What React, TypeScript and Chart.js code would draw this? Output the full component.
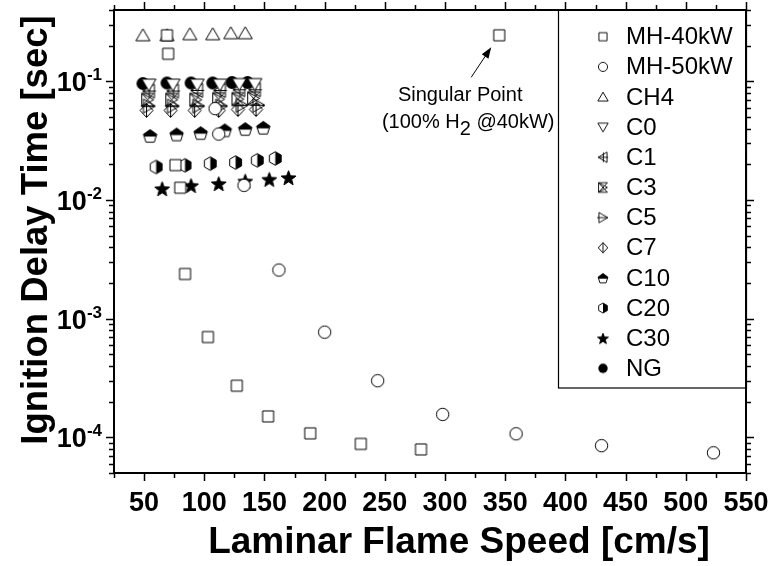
import React, { useEffect, useRef } from 'react';
import { Chart, registerables } from 'chart.js';
Chart.register(...registerables);

const FONT = '"Liberation Sans", Arial, Helvetica, sans-serif';

// ---- data ----
const seriesNames = ['MH-40kW', 'MH-50kW', 'CH4', 'C0', 'C1', 'C3', 'C5', 'C7', 'C10', 'C20', 'C30', 'NG'];
const markerKinds = ['square', 'circle', 'triUp', 'triDown', 'triLeftPlus', 'bowX', 'triRightLine', 'diamondLine', 'pentHalf', 'hexHalf', 'star', 'dot'];

const mh40X = [69, 70, 76, 80, 84, 103, 127, 153, 188, 230, 280, 345];
const mh40Y = [0.245, 0.171, 0.0197, 0.0127, 0.00238, 0.0007, 0.000272, 0.00015, 0.000108, 0.000088, 0.000079, 0.245];
const mh50X = [109, 112, 133, 162, 200, 244, 298, 359, 430, 523];
const mh50Y = [0.059, 0.036, 0.0133, 0.00257, 0.00077, 0.0003, 0.000156, 0.000107, 0.000085, 0.000074];
const ch4X = [49, 69, 88, 107, 122, 134];
const ch4Y = [0.245, 0.245, 0.25, 0.25, 0.255, 0.255];
const c0X = [54, 74, 94, 113, 129, 142];
const c0Y = [0.094, 0.094, 0.094, 0.094, 0.095, 0.095];
const c1X = [54, 74, 94, 113, 129, 142];
const c1Y = [0.083, 0.083, 0.084, 0.084, 0.085, 0.085];
const c3X = [53, 73, 93, 112, 128, 141];
const c3Y = [0.07, 0.07, 0.07, 0.071, 0.071, 0.072];
const c5X = [54, 74, 95, 114, 131, 145];
const c5Y = [0.062, 0.062, 0.062, 0.062, 0.063, 0.063];
const c7X = [52, 72, 92, 112, 128, 143];
const c7Y = [0.057, 0.057, 0.057, 0.057, 0.058, 0.058];
const c10X = [55, 77, 97, 117, 134, 149];
const c10Y = [0.035, 0.036, 0.037, 0.039, 0.04, 0.041];
const c20X = [60, 84, 105, 126, 144, 159];
const c20Y = [0.019, 0.0196, 0.0203, 0.0207, 0.0216, 0.0224];
const c30X = [65, 89, 112, 134, 154, 170];
const c30Y = [0.0125, 0.0133, 0.0138, 0.0145, 0.015, 0.0155];
const ngX = [49, 69, 89, 107, 123, 136];
const ngY = [0.096, 0.097, 0.097, 0.097, 0.098, 0.098];

const seriesX = [mh40X, mh50X, ch4X, c0X, c1X, c3X, c5X, c7X, c10X, c20X, c30X, ngX];
const seriesY = [mh40Y, mh50Y, ch4Y, c0Y, c1Y, c3Y, c5Y, c7Y, c10Y, c20Y, c30Y, ngY];

const xMajorTicks = [50, 100, 150, 200, 250, 300, 350, 400, 450, 500, 550];
const xMinorTicks = [25, 75, 125, 175, 225, 275, 325, 375, 425, 475, 525];
const yDecades = [-1, -2, -3, -4];
const singularIndex = 11;

const xTitle = 'Laminar Flame Speed [cm/s]';
const yTitle = 'Ignition Delay Time [sec]';

function makeMarker(kind: string, size: number): HTMLCanvasElement {
  const cv = document.createElement('canvas');
  cv.width = size;
  cv.height = size;
  const ctx = cv.getContext('2d')!;
  const k = size / 19;
  ctx.scale(k, k);
  ctx.lineWidth = 1 / Math.max(k, 0.8);
  ctx.strokeStyle = '#000';
  ctx.fillStyle = '#000';
  ctx.lineJoin = 'miter';
  const c = 9.5;
  const poly = (pts: number[][]) => {
    ctx.beginPath();
    pts.forEach((p, i) => (i ? ctx.lineTo(p[0], p[1]) : ctx.moveTo(p[0], p[1])));
    ctx.closePath();
  };
  const line = (x1: number, y1: number, x2: number, y2: number) => {
    ctx.beginPath();
    ctx.moveTo(x1, y1);
    ctx.lineTo(x2, y2);
    ctx.stroke();
  };
  const white = () => { ctx.fillStyle = '#fff'; ctx.fill(); ctx.fillStyle = '#000'; };
  switch (kind) {
    case 'square':
      ctx.beginPath(); ctx.rect(c - 5.5, c - 5.5, 11, 11); white(); ctx.stroke(); break;
    case 'circle':
      ctx.beginPath(); ctx.arc(c, c, 6.2, 0, Math.PI * 2); white(); ctx.stroke(); break;
    case 'triUp':
      poly([[c, c - 6.5], [c + 7, c + 5.5], [c - 7, c + 5.5]]); white(); ctx.stroke(); break;
    case 'triDown':
      poly([[c, c + 6.5], [c + 7, c - 5.5], [c - 7, c - 5.5]]); white(); ctx.stroke(); break;
    case 'triLeftPlus':
      poly([[c - 6.5, c], [c + 5.5, c - 7], [c + 5.5, c + 7]]); ctx.stroke();
      line(c + 0.5, c - 6.5, c + 0.5, c + 6.5);
      line(c - 6.5, c, c + 7, c);
      break;
    case 'bowX':
      poly([[c - 6, c - 6.5], [c + 6, c - 6.5], [c - 6, c + 6.5], [c + 6, c + 6.5]]); ctx.stroke();
      poly([[c - 6, c - 6.5], [c + 6, c], [c - 6, c + 6.5]]); ctx.stroke();
      break;
    case 'triRightLine':
      poly([[c + 6.5, c], [c - 5.5, c - 7], [c - 5.5, c + 7]]); ctx.stroke();
      line(c - 8, c, c + 6.5, c);
      break;
    case 'diamondLine':
      poly([[c, c - 7], [c + 6.5, c], [c, c + 7], [c - 6.5, c]]); white(); ctx.stroke();
      line(c, c - 7, c, c + 7);
      break;
    case 'pentHalf': {
      const pts: number[][] = [];
      for (let i = 0; i < 5; i++) {
        const a = -Math.PI / 2 + (i * 2 * Math.PI) / 5;
        pts.push([c + 7 * Math.cos(a), c + 1 + 7 * Math.sin(a)]);
      }
      poly(pts); white();
      ctx.save(); poly(pts); ctx.clip(); ctx.fillRect(0, 0, 19, c + 1); ctx.restore();
      poly(pts); ctx.stroke();
      break;
    }
    case 'hexHalf': {
      const pts: number[][] = [];
      for (let i = 0; i < 6; i++) {
        const a = -Math.PI / 2 + (i * Math.PI) / 3;
        pts.push([c + 6.8 * Math.cos(a), c + 6.8 * Math.sin(a)]);
      }
      poly(pts); white();
      ctx.save(); poly(pts); ctx.clip(); ctx.fillRect(c, 0, 19, 19); ctx.restore();
      poly(pts); ctx.stroke();
      break;
    }
    case 'star': {
      const pts: number[][] = [];
      for (let i = 0; i < 10; i++) {
        const a = -Math.PI / 2 + (i * Math.PI) / 5;
        const r = i % 2 === 0 ? 7.8 : 3.3;
        pts.push([c + r * Math.cos(a), c + 1 + r * Math.sin(a)]);
      }
      poly(pts); ctx.fill(); ctx.stroke();
      break;
    }
    case 'dot':
      ctx.beginPath(); ctx.arc(c, c, 6.4, 0, Math.PI * 2); ctx.fill(); break;
  }
  return cv;
}

export default function App() {
  const ref = useRef<HTMLCanvasElement | null>(null);
  useEffect(() => {
    if (!ref.current) return;
    const plotMarkers = markerKinds.map((k) => makeMarker(k, 19));
    const legendMarkers = markerKinds.map((k) => makeMarker(k, 14));

    const deco = {
      id: 'deco',
      afterDraw(chart: any) {
        const { ctx, chartArea: a, scales } = chart;
        const xs = scales.x;
        const ys = scales.y;
        ctx.save();
        // frame
        ctx.strokeStyle = '#000';
        ctx.lineWidth = 2;
        ctx.strokeRect(a.left, a.top, a.right - a.left, a.bottom - a.top);
        // x ticks
        ctx.lineWidth = 1.5;
        const tickX = (v: number, len: number) => {
          const px = Math.round(xs.getPixelForValue(v)) + 0.5;
          ctx.beginPath();
          ctx.moveTo(px, a.bottom); ctx.lineTo(px, a.bottom + len);
          ctx.moveTo(px, a.top); ctx.lineTo(px, a.top - len);
          ctx.stroke();
        };
        xMajorTicks.forEach((v) => tickX(v, 8));
        xMinorTicks.forEach((v) => tickX(v, 5));
        // y ticks
        const tickY = (v: number, len: number) => {
          const py = Math.round(ys.getPixelForValue(v)) + 0.5;
          ctx.beginPath();
          ctx.moveTo(a.left, py); ctx.lineTo(a.left - len, py);
          ctx.moveTo(a.right, py); ctx.lineTo(a.right + len, py);
          ctx.stroke();
        };
        for (let d = -5; d <= 0; d++) {
          for (let m = 1; m <= 9; m++) {
            const v = m * Math.pow(10, d);
            if (v < ys.min * 0.999 || v > ys.max * 1.001) continue;
            tickY(v, m === 1 ? 8 : 5);
          }
        }
        // x tick labels
        ctx.fillStyle = '#000';
        ctx.font = `bold 27px ${FONT}`;
        ctx.textAlign = 'center';
        ctx.textBaseline = 'alphabetic';
        xMajorTicks.forEach((v) => ctx.fillText(String(v), xs.getPixelForValue(v), 511));
        // y tick labels with superscript
        yDecades.forEach((d) => {
          const py = ys.getPixelForValue(Math.pow(10, d));
          const sup = String(d);
          ctx.font = `bold 17px ${FONT}`;
          const sw = ctx.measureText(sup).width;
          ctx.textAlign = 'left';
          const supX = 102 - sw;
          ctx.fillText(sup, supX, py - 1);
          ctx.font = `bold 27px ${FONT}`;
          ctx.textAlign = 'right';
          ctx.fillText('10', supX, py + 10);
        });
        // axis titles
        ctx.font = `bold 37px ${FONT}`;
        ctx.textAlign = 'center';
        ctx.fillText(xTitle, 459, 553);
        ctx.save();
        ctx.font = `bold 36.5px ${FONT}`;
        ctx.translate(47, 230);
        ctx.rotate(-Math.PI / 2);
        ctx.fillText(yTitle, 0, 0);
        ctx.restore();

        // legend
        const lx = 558, ly = a.top, lw = a.right - 558, lh = 378;
        ctx.lineWidth = 1.2;
        ctx.strokeRect(lx + 0.5, ly, lw, lh);
        ctx.font = `24px ${FONT}`;
        ctx.textAlign = 'left';
        ctx.textBaseline = 'middle';
        seriesNames.forEach((name, i) => {
          const cy = 36.7 + i * 30.15;
          const m = legendMarkers[i];
          ctx.drawImage(m, 603 - m.width / 2, cy - m.height / 2);
          ctx.fillText(name, 626, cy + 1);
        });

        // annotation for singular point
        const sx = xs.getPixelForValue(mh40X[singularIndex]);
        const sy = ys.getPixelForValue(mh40Y[singularIndex]);
        ctx.lineWidth = 1;
        ctx.beginPath();
        ctx.moveTo(sx - 28, sy + 42);
        ctx.lineTo(sx - 12, sy + 18);
        ctx.stroke();
        const tipX = sx - 8, tipY = sy + 12;
        const ang = Math.atan2(tipY - (sy + 42), tipX - (sx - 28));
        ctx.beginPath();
        ctx.moveTo(tipX, tipY);
        ctx.lineTo(tipX - 11 * Math.cos(ang) + 4 * Math.sin(ang), tipY - 11 * Math.sin(ang) - 4 * Math.cos(ang));
        ctx.lineTo(tipX - 11 * Math.cos(ang) - 4 * Math.sin(ang), tipY - 11 * Math.sin(ang) + 4 * Math.cos(ang));
        ctx.closePath();
        ctx.fill();
        ctx.font = `20px ${FONT}`;
        ctx.textBaseline = 'alphabetic';
        ctx.textAlign = 'center';
        ctx.fillText('Singular Point', sx - 39, sy + 66);
        const p1 = '(100% H', p2 = '2', p3 = ' @40kW)';
        const w1 = ctx.measureText(p1).width, w2 = ctx.measureText(p2).width, w3 = ctx.measureText(p3).width;
        let tx = sx - 31 - (w1 + w2 + w3) / 2;
        ctx.textAlign = 'left';
        ctx.fillText(p1, tx, sy + 93); tx += w1;
        ctx.fillText(p2, tx, sy + 100); tx += w2;
        ctx.fillText(p3, tx, sy + 93);
        ctx.restore();
      },
    };

    const chart = new Chart(ref.current, {
      type: 'scatter',
      data: {
        datasets: seriesNames.map((name, i) => ({
          label: name,
          data: seriesX[i].map((x, j) => ({ x, y: seriesY[i][j] })),
          pointStyle: plotMarkers[i] as any,
          pointRadius: 6,
          borderColor: '#000',
          backgroundColor: '#000',
          showLine: false,
        })),
      },
      options: {
        animation: false,
        responsive: false,
        events: [],
        layout: { padding: { top: 10, right: 26, left: 0, bottom: 0 } },
        plugins: { legend: { display: false }, tooltip: { enabled: false } },
        scales: {
          x: {
            type: 'linear', min: 25, max: 550,
            ticks: { display: false }, grid: { display: false }, border: { display: false },
            afterFit: (s: any) => { s.height = 93; },
          },
          y: {
            type: 'logarithmic', min: 5e-5, max: 0.4,
            ticks: { display: false }, grid: { display: false }, border: { display: false },
            afterFit: (s: any) => { s.width = 114; },
          },
        },
      },
      plugins: [deco],
    } as any);
    return () => chart.destroy();
  }, []);
  return (
    <div style={{ position: 'fixed', left: 0, top: 0, width: 772, height: 566, background: '#fff' }}>
      <canvas ref={ref} width={772} height={566} style={{ display: 'block' }} />
    </div>
  );
}
